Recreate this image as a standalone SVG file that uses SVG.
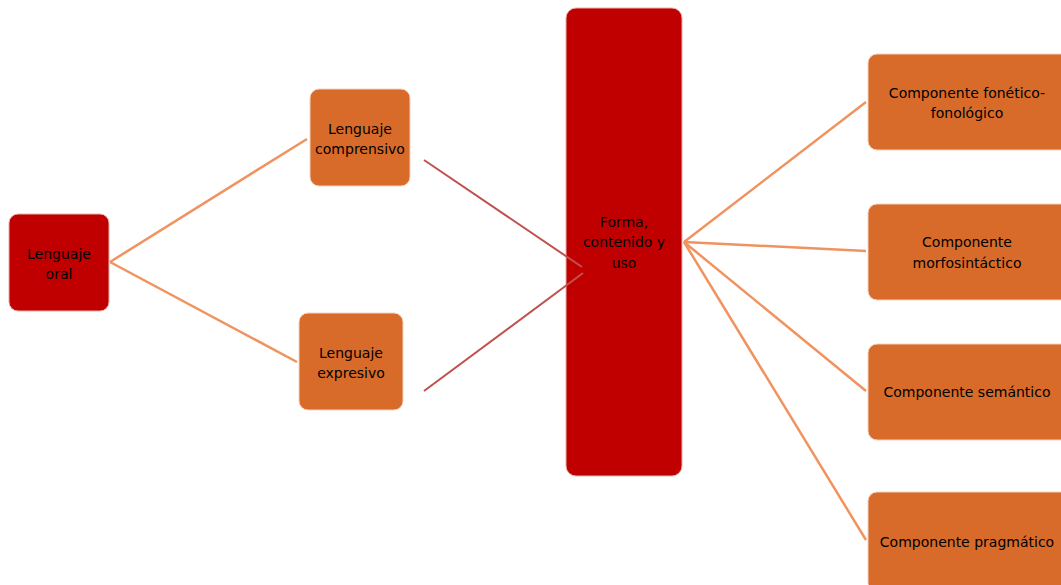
<svg xmlns="http://www.w3.org/2000/svg" width="1061" height="585" viewBox="0 0 1061 585">
  <style>
    .red { fill: #C00000; stroke: #E8B0A8; stroke-width: 1; }
    .orange { fill: #D86B2A; stroke: #F3D2BE; stroke-width: 1; }
    .label { font-family: "Comic Sans MS", "DejaVu Sans", sans-serif; font-size: 14px; fill: #000; text-anchor: middle; }
    .link-light { stroke: #F0935F; stroke-width: 2.5; fill: none; }
    .link-dark { stroke: #C0504D; stroke-width: 2; fill: none; }
  </style>
  <rect width="1061" height="585" fill="#fff"/>

  <g id="connectors">
    <line class="link-light" x1="110" y1="262" x2="307" y2="139"/>
    <line class="link-light" x1="110" y1="262" x2="297" y2="362"/>
    <line class="link-light" x1="684" y1="242" x2="866" y2="102"/>
    <line class="link-light" x1="684" y1="242" x2="866" y2="251"/>
    <line class="link-light" x1="684" y1="242" x2="866" y2="391"/>
    <line class="link-light" x1="684" y1="242" x2="866" y2="540"/>
  </g>

  <g id="lenguaje-oral">
    <rect class="red" x="9" y="214" width="100" height="97" rx="9"/>
    <text class="label" x="59" y="259">Lenguaje</text>
    <text class="label" x="59" y="279">oral</text>
  </g>

  <g id="lenguaje-comprensivo">
    <rect class="orange" x="310" y="89" width="100" height="97" rx="9"/>
    <text class="label" x="360" y="134">Lenguaje</text>
    <text class="label" x="360" y="154">comprensivo</text>
  </g>

  <g id="lenguaje-expresivo">
    <rect class="orange" x="299" y="313" width="104" height="97" rx="9"/>
    <text class="label" x="351" y="358">Lenguaje</text>
    <text class="label" x="351" y="378">expresivo</text>
  </g>

  <g id="forma-contenido-uso">
    <rect class="red" x="566" y="8" width="116" height="468" rx="10"/>
    <text class="label" x="624" y="227">Forma,</text>
    <text class="label" x="624" y="247">contenido y</text>
    <text class="label" x="624" y="268">uso</text>
  </g>

  <g id="connectors-dark">
    <line class="link-dark" x1="424" y1="160" x2="582" y2="267"/>
    <line class="link-dark" x1="424" y1="391" x2="583" y2="273"/>
  </g>

  <g id="componente-fonetico">
    <rect class="orange" x="868" y="54" width="205" height="96" rx="9"/>
    <text class="label" x="967" y="98">Componente fonético-</text>
    <text class="label" x="967" y="118">fonológico</text>
  </g>

  <g id="componente-morfosintactico">
    <rect class="orange" x="868" y="204" width="205" height="96" rx="9"/>
    <text class="label" x="967" y="247">Componente</text>
    <text class="label" x="967" y="268">morfosintáctico</text>
  </g>

  <g id="componente-semantico">
    <rect class="orange" x="868" y="344" width="205" height="96" rx="9"/>
    <text class="label" x="967" y="397">Componente semántico</text>
  </g>

  <g id="componente-pragmatico">
    <rect class="orange" x="868" y="492" width="205" height="100" rx="9"/>
    <text class="label" x="967" y="547">Componente pragmático</text>
  </g>
</svg>
